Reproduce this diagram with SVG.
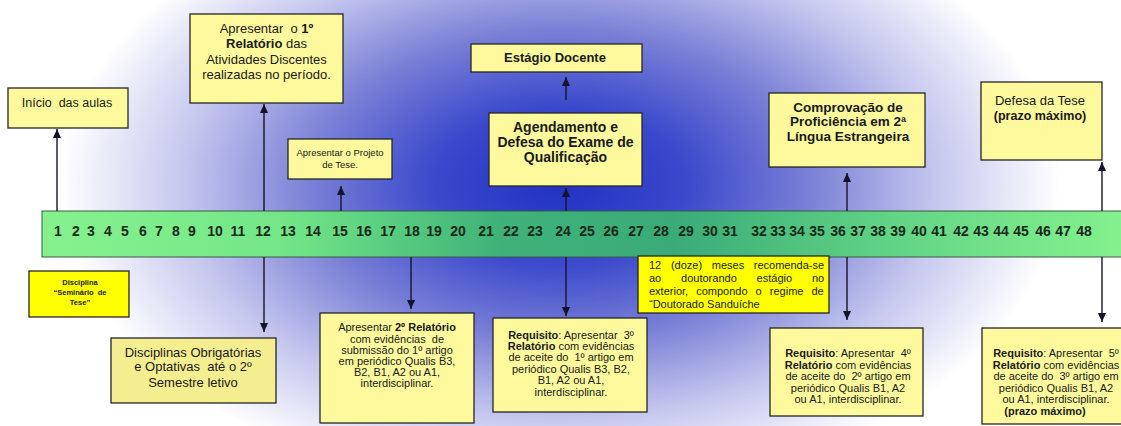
<svg xmlns="http://www.w3.org/2000/svg" width="1121" height="426" viewBox="0 0 1121 426">
<defs>
<radialGradient id="bg" gradientUnits="userSpaceOnUse" cx="560" cy="185" r="500" gradientTransform="translate(560 185) scale(1 0.62) translate(-560 -185)">
<stop offset="0" stop-color="#2233c4"/>
<stop offset="0.25" stop-color="#3a48cc"/>
<stop offset="0.5" stop-color="#7a80d6"/>
<stop offset="0.75" stop-color="#c4c6ee"/>
<stop offset="1" stop-color="#ffffff"/>
</radialGradient>
<linearGradient id="bar" x1="0" y1="0" x2="1" y2="0">
<stop offset="0" stop-color="#86f28e"/>
<stop offset="0.22" stop-color="#74e688"/>
<stop offset="0.42" stop-color="#3fb279"/>
<stop offset="0.58" stop-color="#3aab78"/>
<stop offset="0.78" stop-color="#62d486"/>
<stop offset="1" stop-color="#86f28e"/>
</linearGradient>
<marker id="ah" markerUnits="userSpaceOnUse" markerWidth="10" markerHeight="9" refX="9" refY="4" orient="auto">
<path d="M0,0 L9,4 L0,8 z" fill="#141428"/>
</marker>
<style>
.box{fill:#fdf99c;stroke:#262626;stroke-width:1.3}
.t{font-family:"Liberation Sans",Arial,sans-serif;fill:#1a1a1a;text-anchor:middle}
.b{font-weight:bold}
.n{font-family:"Liberation Sans",Arial,sans-serif;font-weight:bold;font-size:14px;fill:#142a18;text-anchor:middle}
.s13{font-size:13px}
.s11{font-size:11px}
#connectors line{stroke:#141428;stroke-width:1.4;marker-end:url(#ah)}
</style>
</defs>
<rect x="0" y="0" width="1121" height="426" fill="url(#bg)"/>

<g id="timeline">
<rect x="42" y="211" width="1090" height="46" fill="url(#bar)" stroke="#3a5a40" stroke-width="1"/>
<g class="n">
<text x="58" y="236">1</text><text x="76" y="236">2</text><text x="91" y="236">3</text><text x="108" y="236">4</text>
<text x="125" y="236">5</text><text x="143" y="236">6</text><text x="159" y="236">7</text><text x="176" y="236">8</text>
<text x="192" y="236">9</text><text x="215" y="236">10</text><text x="238" y="236">11</text><text x="263" y="236">12</text>
<text x="288" y="236">13</text><text x="313" y="236">14</text><text x="340" y="236">15</text><text x="364" y="236">16</text>
<text x="388" y="236">17</text><text x="412" y="236">18</text><text x="434" y="236">19</text><text x="458" y="236">20</text>
<text x="486" y="236">21</text><text x="511" y="236">22</text><text x="535" y="236">23</text><text x="563" y="236">24</text>
<text x="587" y="236">25</text><text x="611" y="236">26</text><text x="636" y="236">27</text><text x="661" y="236">28</text>
<text x="686" y="236">29</text><text x="710" y="236">30</text><text x="730" y="236">31</text><text x="759" y="236">32</text>
<text x="778" y="236">33</text><text x="797" y="236">34</text><text x="817" y="236">35</text><text x="838" y="236">36</text>
<text x="858" y="236">37</text><text x="878" y="236">38</text><text x="898" y="236">39</text><text x="919" y="236">40</text>
<text x="939" y="236">41</text><text x="961" y="236">42</text><text x="981" y="236">43</text><text x="1001" y="236">44</text>
<text x="1021" y="236">45</text><text x="1043" y="236">46</text><text x="1063" y="236">47</text><text x="1084" y="236">48</text>
</g>
</g>

<g id="connectors">
<line x1="57" y1="211" x2="57" y2="129"/>
<line x1="264" y1="211" x2="264" y2="104"/>
<line x1="264" y1="257" x2="264" y2="332"/>
<line x1="341" y1="211" x2="341" y2="186"/>
<line x1="411" y1="257" x2="411" y2="309"/>
<line x1="566" y1="211" x2="566" y2="188"/>
<line x1="566" y1="100" x2="566" y2="77"/>
<line x1="566" y1="257" x2="566" y2="316"/>
<line x1="847" y1="211" x2="847" y2="173"/>
<line x1="847" y1="257" x2="847" y2="320"/>
<line x1="1102" y1="211" x2="1102" y2="162"/>
<line x1="1102" y1="257" x2="1102" y2="322"/>
</g>

<g id="inicio">
<rect class="box" x="8" y="88" width="120" height="40"/>
<text class="t" x="67" y="106.5" font-size="12.5" xml:space="preserve">Início  das aulas</text>
</g>

<g id="relatorio1">
<rect class="box" x="190" y="14" width="153" height="89"/>
<text class="t s13" x="266.5" y="32.5" xml:space="preserve">Apresentar  o <tspan class="b">1º</tspan></text>
<text class="t s13" x="266.5" y="47.5"><tspan class="b">Relatório</tspan> das</text>
<text class="t s13" x="266.5" y="63.5">Atividades Discentes</text>
<text class="t s13" x="266.5" y="78.5">realizadas no período.</text>
</g>

<g id="projeto">
<rect class="box" x="288" y="139" width="104" height="40"/>
<text class="t" x="340" y="155.5" font-size="9.5">Apresentar o Projeto</text>
<text class="t" x="340" y="167.5" font-size="9.5">de Tese.</text>
</g>

<g id="estagio">
<rect class="box" x="471" y="44" width="171" height="28"/>
<text class="t s13 b" x="555" y="61.5">Estágio Docente</text>
</g>

<g id="qualificacao">
<rect class="box" x="489" y="113" width="153" height="73"/>
<text class="t b" x="565.5" y="131.5" font-size="14">Agendamento e</text>
<text class="t b" x="565.5" y="146.5" font-size="14">Defesa do Exame de</text>
<text class="t b" x="565.5" y="161.5" font-size="14">Qualificação</text>
</g>

<g id="proficiencia">
<rect class="box" x="769" y="93" width="156" height="74"/>
<text class="t b" x="848" y="112" font-size="13.5">Comprovação de</text>
<text class="t b" x="848" y="126" font-size="13.5">Proficiência em 2ª</text>
<text class="t b" x="848" y="141" font-size="13.5">Língua Estrangeira</text>
</g>

<g id="defesa">
<rect class="box" x="981" y="82" width="121" height="78"/>
<text class="t s13" x="1040" y="104.5">Defesa da Tese</text>
<text class="t b" x="1040" y="119.5" font-size="12.5">(prazo máximo)</text>
</g>

<g id="seminario">
<rect x="29" y="271" width="100" height="46" fill="#ffff00" stroke="#262626" stroke-width="1.3"/>
<text class="t b" x="80" y="285" font-size="7.5">Disciplina</text>
<text class="t b" x="80" y="295" font-size="7.5" xml:space="preserve">“Seminário  de</text>
<text class="t b" x="80" y="305" font-size="7.5">Tese”</text>
</g>

<g id="disciplinas">
<rect class="box" x="111" y="338" width="165" height="65" style="fill:#f5ee90"/>
<text class="t s13" x="193" y="356.5">Disciplinas Obrigatórias</text>
<text class="t s13" x="193" y="371" xml:space="preserve">e Optativas  até o 2º</text>
<text class="t s13" x="193" y="386.5">Semestre letivo</text>
</g>

<g id="relatorio2">
<rect class="box" x="320" y="313" width="154" height="110"/>
<text class="t s11" x="397" y="331"><tspan>Apresentar </tspan><tspan class="b">2º Relatório</tspan></text>
<text class="t s11" x="397" y="343" xml:space="preserve">com evidências  de</text>
<text class="t s11" x="397" y="354">submissão do 1º artigo</text>
<text class="t s11" x="397" y="365">em periódico Qualis B3,</text>
<text class="t s11" x="397" y="376">B2, B1, A2 ou A1,</text>
<text class="t s11" x="397" y="387">interdisciplinar.</text>
</g>

<g id="relatorio3">
<rect class="box" x="493" y="318" width="154" height="94"/>
<text class="t s11" x="571" y="339" xml:space="preserve"><tspan class="b">Requisito</tspan>: Apresentar  3º</text>
<text class="t s11" x="571" y="350"><tspan class="b">Relatório</tspan> com evidências</text>
<text class="t s11" x="571" y="361" xml:space="preserve">de aceite do  1º artigo em</text>
<text class="t s11" x="571" y="373">periódico Qualis B3, B2,</text>
<text class="t s11" x="571" y="384">B1, A2 ou A1,</text>
<text class="t s11" x="571" y="396">interdisciplinar.</text>
</g>

<g id="sanduiche">
<rect x="638" y="256" width="191" height="57" fill="#ffff00" stroke="#262626" stroke-width="1.3"/>
<g font-family="Liberation Sans, Arial, sans-serif" font-size="11" fill="#1a1a1a">
<text x="649" y="269" word-spacing="6.6">12 (doze) meses recomenda-se</text>
<text x="649" y="282" word-spacing="16.8">ao doutorando estágio no</text>
<text x="649" y="295" word-spacing="5">exterior, compondo o regime de</text>
<text x="649" y="308">“Doutorado Sanduíche</text>
</g>
</g>

<g id="relatorio4">
<rect class="box" x="770" y="328" width="153" height="88"/>
<text class="t s11" x="848" y="357" xml:space="preserve"><tspan class="b">Requisito</tspan>: Apresentar  4º</text>
<text class="t s11" x="848" y="368.5"><tspan class="b">Relatório</tspan> com evidências</text>
<text class="t s11" x="848" y="380" xml:space="preserve">de aceite do  2º artigo em</text>
<text class="t s11" x="848" y="391.5">periódico Qualis B1, A2</text>
<text class="t s11" x="848" y="403">ou A1, interdisciplinar.</text>
</g>

<g id="relatorio5">
<rect class="box" x="982" y="328" width="150" height="96"/>
<text class="t s11" x="1056" y="357" xml:space="preserve"><tspan class="b">Requisito</tspan>: Apresentar  5º</text>
<text class="t s11" x="1056" y="368.5"><tspan class="b">Relatório</tspan> com evidências</text>
<text class="t s11" x="1056" y="380" xml:space="preserve">de aceite do  3º artigo em</text>
<text class="t s11" x="1056" y="391.5">periódico Qualis B1, A2</text>
<text class="t s11" x="1056" y="403">ou A1, interdisciplinar.</text>
<text class="t s11 b" x="1045" y="414.5">(prazo máximo)</text>
</g>
</svg>
